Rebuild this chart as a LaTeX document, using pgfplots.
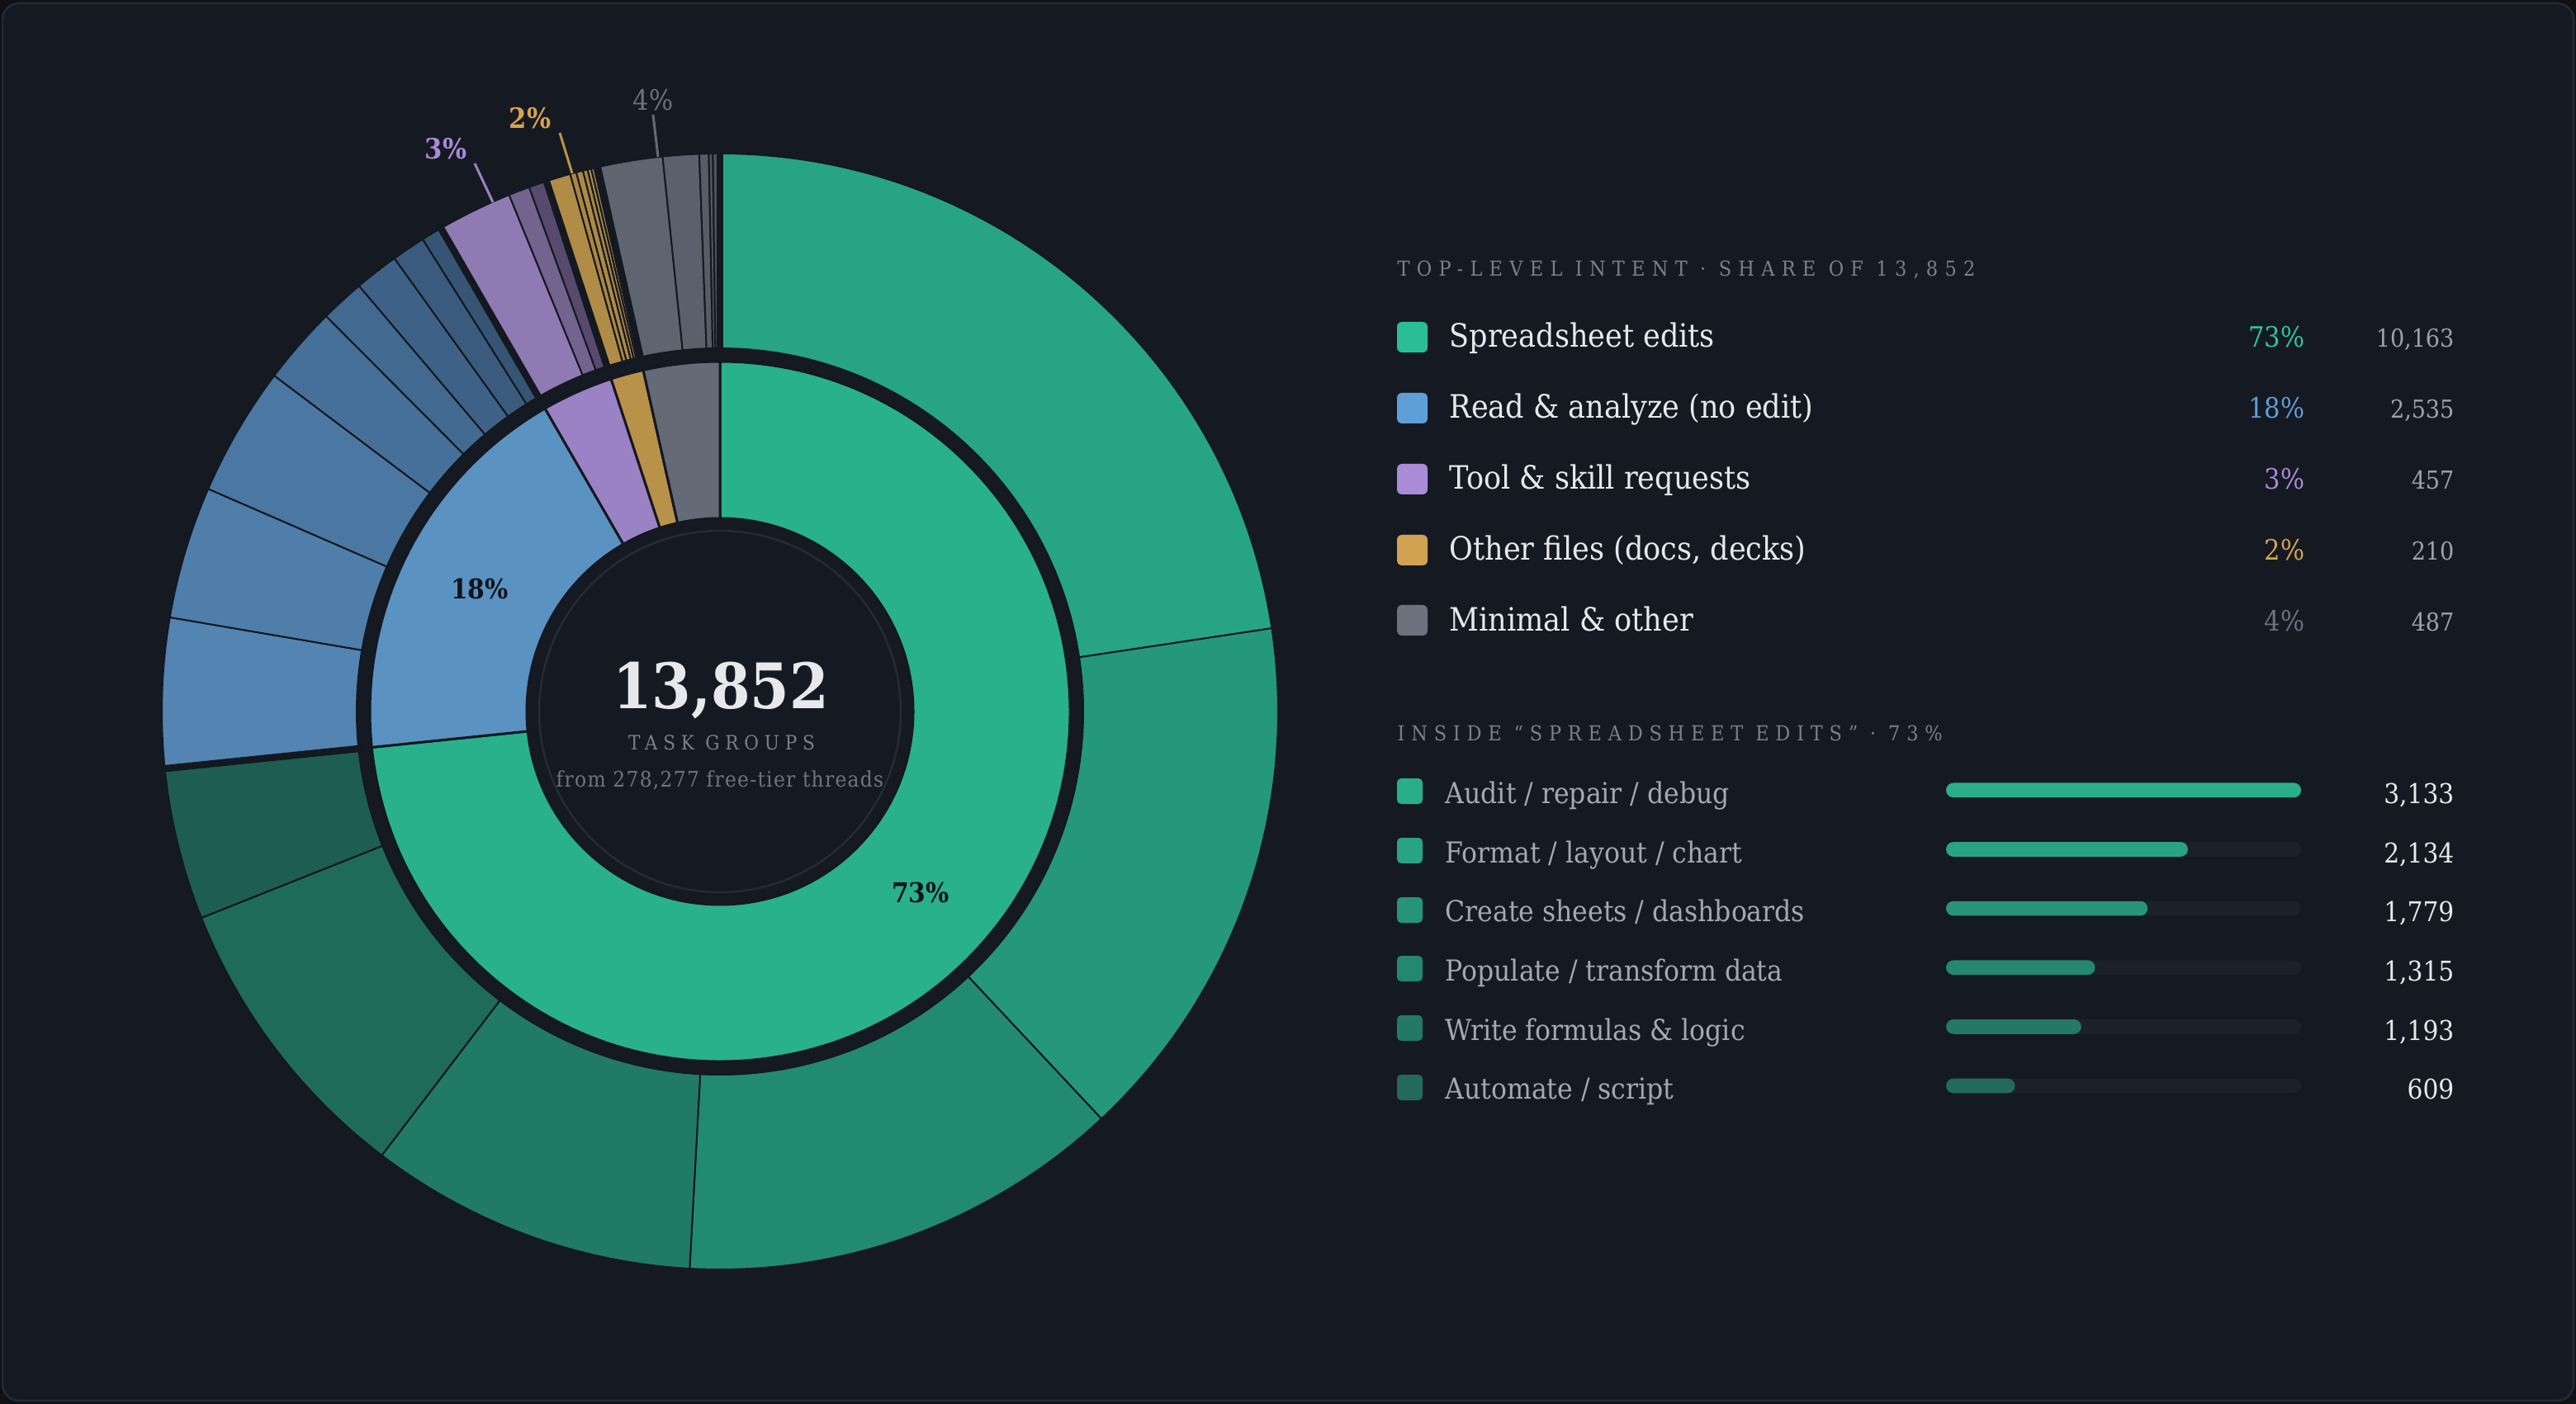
\documentclass[border=0pt]{standalone}
\usepackage{pgfplots}
\pgfplotsset{compat=1.18}
\usepackage{pgfplotstable}
\usepackage{fontspec}
\setmainfont{DejaVu Serif Condensed}
\newfontfamily\spaced{DejaVu Serif Condensed}[LetterSpace=31]
\newfontfamily\spacedw{DejaVu Serif Condensed}[LetterSpace=33]
\newfontfamily\spacedc{DejaVu Serif Condensed}[LetterSpace=28]
\newfontfamily\spacedtwo{DejaVu Serif Condensed}[LetterSpace=5]
\newcommand\fpx[1]{\pgfmathsetmacro\fsv{#1*0.28453}\fontsize{\fsv pt}{\fsv pt}\selectfont}

% page colours
\definecolor{page}{HTML}{0F1116}
\definecolor{panel}{HTML}{151922}
\definecolor{frame}{HTML}{252A34}
\definecolor{gap}{HTML}{141820}
% inner ring
\definecolor{ig}{HTML}{29B18B}
\definecolor{ib}{HTML}{5A92C2}
\definecolor{ip}{HTML}{9B82C4}
\definecolor{io}{HTML}{B9924A}
\definecolor{ia}{HTML}{646B77}
% outer ring
\definecolor{o1}{HTML}{27A484}
\definecolor{o2}{HTML}{25977C}
\definecolor{o3}{HTML}{238A72}
\definecolor{o4}{HTML}{217A66}
\definecolor{o5}{HTML}{1F6B5A}
\definecolor{o6}{HTML}{1E5E52}
\definecolor{b1}{HTML}{5384B2}
\definecolor{b2}{HTML}{4F7EAA}
\definecolor{b3}{HTML}{4A78A2}
\definecolor{b4}{HTML}{46709A}
\definecolor{b5}{HTML}{42698F}
\definecolor{b6}{HTML}{3E6287}
\definecolor{b7}{HTML}{3A5B7E}
\definecolor{b8}{HTML}{365575}
\definecolor{p1}{HTML}{907AB4}
\definecolor{p2}{HTML}{73638F}
\definecolor{p3}{HTML}{574A6E}
\definecolor{g1}{HTML}{B08C47}
\definecolor{g2}{HTML}{A98743}
\definecolor{g3}{HTML}{AD8A45}
\definecolor{g4}{HTML}{A88642}
\definecolor{g5}{HTML}{AB8844}
\definecolor{g6}{HTML}{A68541}
\definecolor{g7}{HTML}{A98743}
\definecolor{a1}{HTML}{5E6570}
\definecolor{a2}{HTML}{5A616C}
\definecolor{a3}{HTML}{565D68}
\definecolor{a4}{HTML}{525963}
\definecolor{a5}{HTML}{4E545E}
% legend
\definecolor{lg}{HTML}{2BBD96}
\definecolor{lb}{HTML}{5E9FD8}
\definecolor{lp}{HTML}{A98BD8}
\definecolor{lo}{HTML}{D0A352}
\definecolor{la}{HTML}{6B717D}
\definecolor{pg}{HTML}{2EC49C}
\definecolor{pb}{HTML}{5E9FD8}
\definecolor{pp}{HTML}{A78BD6}
\definecolor{po}{HTML}{D4A54C}
\definecolor{pa}{HTML}{6B7280}
\definecolor{twhite}{HTML}{E6E8EC}
\definecolor{tgray}{HTML}{9CA3AF}
\definecolor{thead}{HTML}{7A808B}
\definecolor{tsub}{HTML}{A3A9B3}
\definecolor{tdim}{HTML}{6E7480}
\definecolor{tdark}{HTML}{10141B}
\definecolor{track}{HTML}{1B202A}
\definecolor{bb1}{HTML}{2AAE8A}
\definecolor{bb2}{HTML}{29A385}
\definecolor{bb3}{HTML}{26947B}
\definecolor{bb4}{HTML}{24876F}
\definecolor{bb5}{HTML}{237965}
\definecolor{bb6}{HTML}{226A5B}

\tikzset{lab/.style={anchor=base west, font=\fpx{39}, text=twhite, inner sep=0pt},
         pct/.style={anchor=base east, font=\fpx{34}, inner sep=0pt},
         cnt/.style={anchor=base east, font=\fpx{30}, text=tgray, inner sep=0pt},
         sub/.style={anchor=base west, font=\fpx{35}, text=tsub, inner sep=0pt},
         scnt/.style={anchor=base east, font=\fpx{33}, text=twhite, inner sep=0pt}}

% inner ring: top-level intents
\pgfplotstableread{
n c
10163 ig
2535 ib
457 ip
210 io
487 ia
}\innerT

% outer ring: sub-intents
\pgfplotstableread{
n c
3133 o1
2134 o2
1779 o3
1315 o4
1193 o5
609 o6
600 b1
531 b2
519 b3
312 b4
177 b5
177 b6
135 b7
84 b8
300 p1
85 p2
72 p3
98 g1
25 g2
27 g3
19 g4
15 g5
12 g6
14 g7
260 a1
145 a2
38 a3
16 a4
28 a5
}\outerT

% draws a ring of wedges from a table: #1 table, #2 r in, #3 r out, #4 stroke, #5 (1 = group gaps)
\newcommand\drawring[5]{%
  \pgfplotstablegetrowsof{#1}%
  \pgfmathtruncatemacro\nrows{\pgfplotsretval-1}%
  \gdef\cum{0}%
  \pgfplotsforeachungrouped \i in {0,...,\nrows}{%
    \pgfplotstablegetelem{\i}{n}\of#1\let\wval\pgfplotsretval
    \pgfplotstablegetelem{\i}{c}\of#1\let\wcol\pgfplotsretval
    \pgfmathsetmacro\angA{90-\cum/13852*360}%
    \pgfmathsetmacro\cumb{\cum+\wval}%
    \pgfmathsetmacro\angB{90-\cumb/13852*360}%
    \edef\temp{\noexpand\fill[\wcol, draw=gap, line width=#4]
      ([shift={(\angA:#2)}]C) arc[start angle=\angA, end angle=\angB, radius=#2]
      -- ([shift={(\angB:#3)}]C) arc[start angle=\angB, end angle=\angA, radius=#3] -- cycle;}%
    \temp
    \ifnum#5=1
      \edef\temp{\noexpand\draw[gap, line width=0.85mm]
        ([shift={(\angA:43.4mm)}]C) -- ([shift={(\angA:68.2mm)}]C);}%
      \temp
    \fi
    \global\let\cum\cumb
  }%
}

\begin{document}
\begin{tikzpicture}
\begin{axis}[name=main, at={(0,0)}, anchor=south west, scale only axis,
  width=312mm, height=170.1mm, xmin=0, xmax=3120, ymin=0, ymax=1701,
  y dir=reverse, hide axis, clip=false]
  % background
  \fill[page] (axis cs:0,0) rectangle (axis cs:3120,1701);
  \draw[frame, fill=panel, line width=0.25mm, rounded corners=2mm] (axis cs:3,4) rectangle (axis cs:3117,1697);
  \coordinate (C) at (axis cs:872,862);
  % rings
  \drawring{\outerT}{44.0mm}{67.6mm}{0.2mm}{0}
  \drawring{\innerT}{23.4mm}{42.4mm}{0.3mm}{1}
  \draw[frame, line width=0.25mm] (C) circle[radius=21.9mm];
  % ring labels
  \node[font=\bfseries\fpx{33}, text=tdark] at (axis cs:581,713) {18\%};
  \node[font=\bfseries\fpx{33}, text=tdark] at (axis cs:1115,1081) {73\%};
  \draw[ip, line width=0.3mm] (axis cs:575,198) -- (axis cs:597,245);
  \node[font=\bfseries\fpx{34}, text=pp] at (axis cs:540,180) {3\%};
  \draw[io, line width=0.3mm] (axis cs:678,161) -- (axis cs:693,210);
  \node[font=\bfseries\fpx{34}, text=po] at (axis cs:642,143) {2\%};
  \draw[ia, line width=0.3mm] (axis cs:791,139) -- (axis cs:797,190);
  \node[font=\fpx{34}, text=pa] at (axis cs:791,121) {4\%};
  % centre
  \node[anchor=base, font=\bfseries\fpx{76}, text=twhite] at (axis cs:873,858) {13,852};
  \node[anchor=base, font=\spacedc\fpx{24}, text=thead] at (axis cs:874,908) {TASK GROUPS};
  \node[anchor=base, font=\spacedtwo\fpx{26}, text=tdim] at (axis cs:872,953) {from 278,277 free-tier threads};

  % legend 1
  \node[anchor=base west, font=\spacedw\fpx{25}, text=thead, inner sep=0pt] at (axis cs:1692,335) {TOP-LEVEL INTENT · SHARE OF 13,852};
  \fill[lg, rounded corners=0.6mm] (axis cs:1692,390) rectangle (axis cs:1729,427);
  \fill[lb, rounded corners=0.6mm] (axis cs:1692,476) rectangle (axis cs:1729,513);
  \fill[lp, rounded corners=0.6mm] (axis cs:1692,562) rectangle (axis cs:1729,599);
  \fill[lo, rounded corners=0.6mm] (axis cs:1692,648) rectangle (axis cs:1729,685);
  \fill[la, rounded corners=0.6mm] (axis cs:1692,733) rectangle (axis cs:1729,770);
  \node[lab] at (axis cs:1755,421) {Spreadsheet edits};
  \node[pct, text=pg] at (axis cs:2792,421) {73\%};
  \node[cnt] at (axis cs:2973,421) {10,163};
  \node[lab] at (axis cs:1755,507) {Read \& analyze (no edit)};
  \node[pct, text=pb] at (axis cs:2792,507) {18\%};
  \node[cnt] at (axis cs:2973,507) {2,535};
  \node[lab] at (axis cs:1755,593) {Tool \& skill requests};
  \node[pct, text=pp] at (axis cs:2792,593) {3\%};
  \node[cnt] at (axis cs:2973,593) {457};
  \node[lab] at (axis cs:1755,679) {Other files (docs, decks)};
  \node[pct, text=po] at (axis cs:2792,679) {2\%};
  \node[cnt] at (axis cs:2973,679) {210};
  \node[lab] at (axis cs:1755,765) {Minimal \& other};
  \node[pct, text=pa] at (axis cs:2792,765) {4\%};
  \node[cnt] at (axis cs:2973,765) {487};
  % legend 2
  \node[anchor=base west, font=\spaced\fpx{25}, text=thead, inner sep=0pt] at (axis cs:1692,897) {INSIDE “SPREADSHEET EDITS” · 73\%};
  \fill[bb1, rounded corners=0.5mm] (axis cs:1692,943) rectangle (axis cs:1723,974);
  \fill[bb2, rounded corners=0.5mm] (axis cs:1692,1015) rectangle (axis cs:1723,1046);
  \fill[bb3, rounded corners=0.5mm] (axis cs:1692,1087) rectangle (axis cs:1723,1118);
  \fill[bb4, rounded corners=0.5mm] (axis cs:1692,1158) rectangle (axis cs:1723,1189);
  \fill[bb5, rounded corners=0.5mm] (axis cs:1692,1230) rectangle (axis cs:1723,1261);
  \fill[bb6, rounded corners=0.5mm] (axis cs:1692,1302) rectangle (axis cs:1723,1333);
  \node[sub] at (axis cs:1750,973) {Audit / repair / debug};
  \node[scnt] at (axis cs:2973,973) {3,133};
  \node[sub] at (axis cs:1750,1045) {Format / layout / chart};
  \node[scnt] at (axis cs:2973,1045) {2,134};
  \node[sub] at (axis cs:1750,1116) {Create sheets / dashboards};
  \node[scnt] at (axis cs:2973,1116) {1,779};
  \node[sub] at (axis cs:1750,1188) {Populate / transform data};
  \node[scnt] at (axis cs:2973,1188) {1,315};
  \node[sub] at (axis cs:1750,1260) {Write formulas \& logic};
  \node[scnt] at (axis cs:2973,1260) {1,193};
  \node[sub] at (axis cs:1750,1331) {Automate / script};
  \node[scnt] at (axis cs:2973,1331) {609};
\end{axis}

% bars inside "Spreadsheet edits"
\begin{axis}[at={(235.7mm,77.95mm)}, anchor=north west, scale only axis,
  width=43mm, height=42.99mm, xmin=0, xmax=3133, ymin=0.5, ymax=6.5,
  y dir=reverse, hide axis, clip=false, xbar, bar width=1.77mm]
  \addplot[fill=track, draw=none, bar shift=0pt, rounded corners=0.88mm]
    coordinates {(3133,1) (3133,2) (3133,3) (3133,4) (3133,5) (3133,6)};
  \addplot[fill=bb1, draw=none, bar shift=0pt, rounded corners=0.88mm] coordinates {(3133,1)};
  \addplot[fill=bb2, draw=none, bar shift=0pt, rounded corners=0.88mm] coordinates {(2134,2)};
  \addplot[fill=bb3, draw=none, bar shift=0pt, rounded corners=0.88mm] coordinates {(1779,3)};
  \addplot[fill=bb4, draw=none, bar shift=0pt, rounded corners=0.88mm] coordinates {(1315,4)};
  \addplot[fill=bb5, draw=none, bar shift=0pt, rounded corners=0.88mm] coordinates {(1193,5)};
  \addplot[fill=bb6, draw=none, bar shift=0pt, rounded corners=0.88mm] coordinates {(609,6)};
\end{axis}
\end{tikzpicture}
\end{document}
